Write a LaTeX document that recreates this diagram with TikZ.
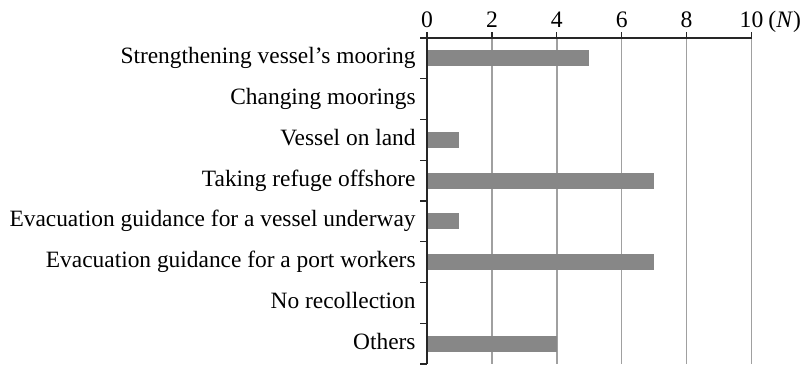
\documentclass[tikz,border=0pt]{standalone}
\usepackage{fontspec}
\setmainfont{Liberation Serif}
\definecolor{bargray}{HTML}{878787}
\definecolor{gridgray}{HTML}{A0A0A0}
\begin{document}
\begin{tikzpicture}[x=0.5pt,y=-0.5pt,
  lbl/.style={anchor=base east,inner sep=0pt,font=\fontsize{11.7}{13}\selectfont},
  num/.style={anchor=base,inner sep=0pt,font=\fontsize{11.8}{13}\selectfont},
  bar/.style={fill=bargray,draw=none},
  gridline/.style={draw=gridgray,line width=0.75pt},
  axisline/.style={draw=black!85,line width=0.6pt}]
\useasboundingbox (0,0) rectangle (800,366);
% x(v) = 427 + 32.45 v ; category i center = 38 + 40.75 (i-0.5)
\def\xu{32.45}
\def\ys{40.75}
% grid lines
\foreach \v in {2,4,6,8,10}{
  \draw[gridline] ({427+\xu*\v},38) -- ({427+\xu*\v},364);
}
% bars
\foreach \val [count=\i] in {5,0,1,7,1,7,0,4}{
  \ifnum\val>0
    \fill[bar] (427,{38+\ys*(\i-0.5)-8}) rectangle ({427+\xu*\val},{38+\ys*(\i-0.5)+8});
  \fi
}
% axes
\draw[axisline] (420,38) -- ({427+\xu*10},38);
\draw[axisline] (427,32) -- (427,364);
\foreach \v in {2,4,6,8,10}{
  \draw[axisline] ({427+\xu*\v},32) -- ({427+\xu*\v},38);
}
\foreach \i in {1,...,8}{
  \draw[axisline] (420,{38+\ys*\i}) -- (427,{38+\ys*\i});
}
% numbers
\foreach \v in {0,2,4,6,8,10}{
  \node[num] (n\v) at ({427+\xu*\v},27) {\v};
}
\node[anchor=base west,inner sep=0pt,font=\fontsize{11.8}{13}\selectfont] (unit) at (768,27) {(\textit{N})};
% labels
\foreach \t [count=\i] in {Strengthening vessel’s mooring,Changing moorings,Vessel on land,Taking refuge offshore,Evacuation guidance for a vessel underway,Evacuation guidance for a port workers,No recollection,Others}{
  \node[lbl] (l\i) at (416,{38+\ys*(\i-0.5)+5.5}) {\t};
}
\end{tikzpicture}
\end{document}
